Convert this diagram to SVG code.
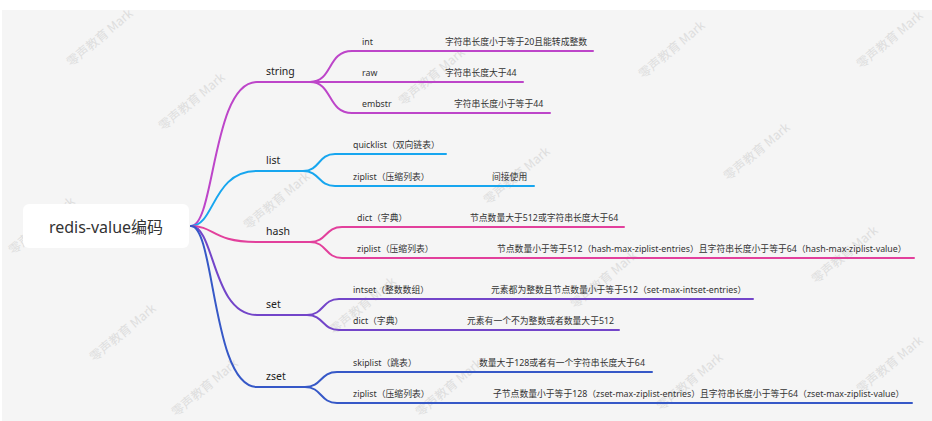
<svg xmlns="http://www.w3.org/2000/svg" width="932" height="421" viewBox="0 0 932 421">
<style>
.wm{font-family:"Noto Sans CJK SC","Noto Sans",sans-serif;font-size:12.5px;fill:#dedede;text-anchor:middle}
.lbl{font-family:"Noto Sans","Noto Sans CJK SC",sans-serif;font-size:8.8px;fill:#333}
.topic{font-family:"Noto Sans","Noto Sans CJK SC",sans-serif;font-size:10.5px;fill:#222}
.root{font-family:"Noto Sans","Noto Sans CJK SC",sans-serif;font-size:16px;fill:#333;text-anchor:middle}
.c{fill:none;stroke-width:2;stroke-linecap:round}
.s1{stroke:#bd45c9}.s2{stroke:#17a6ef}.s3{stroke:#e2409c}.s4{stroke:#7345c9}.s5{stroke:#3658c7}
</style>
<rect x="0" y="0" width="932" height="421" fill="#ffffff"/>
<rect x="2" y="10" width="930" height="411" fill="#f5f5f5"/>
<g id="watermarks">
<text class="wm" transform="translate(100,38) rotate(-40)" dy="4">零声教育 Mark</text>
<text class="wm" transform="translate(192,102) rotate(-40)" dy="4">零声教育 Mark</text>
<text class="wm" transform="translate(432,77) rotate(-40)" dy="4">零声教育 Mark</text>
<text class="wm" transform="translate(672,50) rotate(-40)" dy="4">零声教育 Mark</text>
<text class="wm" transform="translate(890,40) rotate(-40)" dy="4">零声教育 Mark</text>
<text class="wm" transform="translate(42,226) rotate(-40)" dy="4">零声教育 Mark</text>
<text class="wm" transform="translate(277,201) rotate(-40)" dy="4">零声教育 Mark</text>
<text class="wm" transform="translate(517,176) rotate(-40)" dy="4">零声教育 Mark</text>
<text class="wm" transform="translate(757,152) rotate(-40)" dy="4">零声教育 Mark</text>
<text class="wm" transform="translate(123,333) rotate(-40)" dy="4">零声教育 Mark</text>
<text class="wm" transform="translate(363,306) rotate(-40)" dy="4">零声教育 Mark</text>
<text class="wm" transform="translate(604,280) rotate(-40)" dy="4">零声教育 Mark</text>
<text class="wm" transform="translate(845,255) rotate(-40)" dy="4">零声教育 Mark</text>
<text class="wm" transform="translate(205,388) rotate(-40)" dy="4">零声教育 Mark</text>
<text class="wm" transform="translate(449,388) rotate(-40)" dy="4">零声教育 Mark</text>
<text class="wm" transform="translate(690,382) rotate(-40)" dy="4">零声教育 Mark</text>
<text class="wm" transform="translate(890,365) rotate(-40)" dy="4">零声教育 Mark</text>
</g>
<g id="connectors">
<path class="c s1" d="M191,226 C215,226 212,82 257,82 H310"/>
<path class="c s1" d="M310,82 C333,82 327,51 352,51 H593"/>
<path class="c s1" d="M310,82 H523"/>
<path class="c s1" d="M310,82 C333,82 327,113 352,113 H550"/>
<path class="c s2" d="M191,226 C215,226 212,171 257,171 H303"/>
<path class="c s2" d="M303,171 C320,171 318,154 335,154 H446"/>
<path class="c s2" d="M303,171 C320,171 318,186 335,186 H534"/>
<path class="c s3" d="M191,226 C215,226 212,242 257,242 H310"/>
<path class="c s3" d="M310,242 C327,242 325,227 342,227 H624"/>
<path class="c s3" d="M310,242 C327,242 325,258 342,258 H914"/>
<path class="c s4" d="M191,226 C215,226 212,315 257,315 H307"/>
<path class="c s4" d="M307,315 C324,315 322,299 339,299 H753"/>
<path class="c s4" d="M307,315 C324,315 322,330 339,330 H619"/>
<path class="c s5" d="M191,226 C215,226 212,387 257,387 H305"/>
<path class="c s5" d="M305,387 C322,387 320,372 337,372 H652"/>
<path class="c s5" d="M305,387 C322,387 320,403 337,403 H912"/>
</g>
<g id="node-root">
<rect x="23" y="204" width="166" height="44" rx="6" fill="#ffffff"/>
<text class="root" x="106" y="233">redis-value编码</text>
</g>
<g id="node-string"><text class="topic" x="266" y="74.5">string</text></g>
<g id="node-string-int"><text class="lbl" x="362" y="44.5">int</text><text class="lbl" x="445" y="44.5">字符串长度小于等于20且能转成整数</text></g>
<g id="node-string-raw"><text class="lbl" x="362" y="75.5">raw</text><text class="lbl" x="445" y="75.5">字符串长度大于44</text></g>
<g id="node-string-embstr"><text class="lbl" x="362" y="106.5">embstr</text><text class="lbl" x="454" y="106.5">字符串长度小于等于44</text></g>
<g id="node-list"><text class="topic" x="266" y="163.5">list</text></g>
<g id="node-list-quicklist"><text class="lbl" x="353" y="147.5">quicklist（双向链表）</text></g>
<g id="node-list-ziplist"><text class="lbl" x="353" y="179.5">ziplist（压缩列表）</text><text class="lbl" x="492" y="179.5">间接使用</text></g>
<g id="node-hash"><text class="topic" x="266" y="234.5">hash</text></g>
<g id="node-hash-dict"><text class="lbl" x="357" y="220.5">dict（字典）</text><text class="lbl" x="470" y="220.5">节点数量大于512或字符串长度大于64</text></g>
<g id="node-hash-ziplist"><text class="lbl" x="357" y="251.5">ziplist（压缩列表）</text><text class="lbl" x="497" y="251.5">节点数量小于等于512（hash-max-ziplist-entries）且字符串长度小于等于64（hash-max-ziplist-value）</text></g>
<g id="node-set"><text class="topic" x="266" y="307.5">set</text></g>
<g id="node-set-intset"><text class="lbl" x="353" y="292.5">intset（整数数组）</text><text class="lbl" x="491" y="292.5">元素都为整数且节点数量小于等于512（set-max-intset-entries）</text></g>
<g id="node-set-dict"><text class="lbl" x="353" y="323.5">dict（字典）</text><text class="lbl" x="467" y="323.5">元素有一个不为整数或者数量大于512</text></g>
<g id="node-zset"><text class="topic" x="266" y="379.5">zset</text></g>
<g id="node-zset-skiplist"><text class="lbl" x="353" y="365.5">skiplist（跳表）</text><text class="lbl" x="479" y="365.5">数量大于128或者有一个字符串长度大于64</text></g>
<g id="node-zset-ziplist"><text class="lbl" x="353" y="396.5">ziplist（压缩列表）</text><text class="lbl" x="493" y="396.5">子节点数量小于等于128（zset-max-ziplist-entries）且字符串长度小于等于64（zset-max-ziplist-value）</text></g>
</svg>
